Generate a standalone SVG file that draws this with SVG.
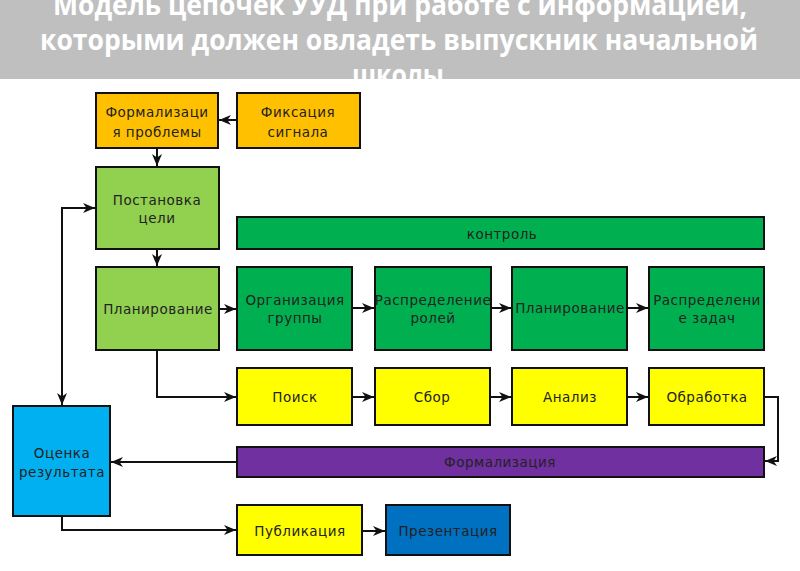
<svg xmlns="http://www.w3.org/2000/svg" width="800" height="571" viewBox="0 0 800 571">
<style>
.box{stroke:#111;stroke-width:2}
.t{font-family:"DejaVu Sans",Verdana,sans-serif;font-size:13.5px;fill:#222;text-anchor:middle;letter-spacing:0.5px}
.title{font-family:"Open Sans","DejaVu Sans",sans-serif;font-weight:bold;font-size:28px;fill:#ffffff;text-anchor:middle}
.c{fill:none;stroke:#111;stroke-width:2}
.orange{fill:#ffc000}.lgreen{fill:#92d050}.green{fill:#00b050}.yellow{fill:#ffff00}
.purple{fill:#7030a0}.lblue{fill:#00b0f0}.blue{fill:#0070c0}
</style>
<defs>
<marker id="ah" markerUnits="userSpaceOnUse" markerWidth="13" markerHeight="11" refX="12" refY="5.5" orient="auto-start-reverse" viewBox="0 0 13 11">
<path d="M0,0.5 L12,5.5 L0,10.5 L3.5,5.5 z" fill="#111"/>
</marker>
</defs>
<rect width="800" height="571" fill="#ffffff"/>
<g id="title">
<rect x="0" y="0" width="800" height="79" fill="#bfbfbf"/>
<text class="title" x="400" y="15" textLength="694" lengthAdjust="spacingAndGlyphs">Модель цепочек УУД при работе с информацией,</text>
<text class="title" x="399" y="50" textLength="718" lengthAdjust="spacingAndGlyphs">которыми должен овладеть выпускник начальной</text>
<text class="title" x="398" y="85" textLength="92" lengthAdjust="spacingAndGlyphs">школы</text>
</g>
<g id="connectors">
<path class="c" d="M237,120 L219,120" marker-end="url(#ah)"/>
<path class="c" d="M157,148 L157,166" marker-end="url(#ah)"/>
<path class="c" d="M157,249 L157,266" marker-end="url(#ah)"/>
<path class="c" d="M219,309 L236,309" marker-end="url(#ah)"/>
<path class="c" d="M352,308 L374,308" marker-end="url(#ah)"/>
<path class="c" d="M491,308 L511,308" marker-end="url(#ah)"/>
<path class="c" d="M627,308 L648,308" marker-end="url(#ah)"/>
<path class="c" d="M157,350 L157,397 L236,397" marker-end="url(#ah)"/>
<path class="c" d="M352,397 L374,397" marker-end="url(#ah)"/>
<path class="c" d="M490,397 L511,397" marker-end="url(#ah)"/>
<path class="c" d="M627,397 L648,397" marker-end="url(#ah)"/>
<path class="c" d="M764,397 L778,397 L778,461 L765,461" marker-end="url(#ah)"/>
<path class="c" d="M237,462 L111,462" marker-end="url(#ah)"/>
<path class="c" d="M62,516 L62,530 L236,530" marker-end="url(#ah)"/>
<path class="c" d="M362,531 L385,531" marker-end="url(#ah)"/>
<path class="c" d="M62,405 L62,208 L95,208" marker-start="url(#ah)" marker-end="url(#ah)"/>
</g>
<g id="n_formprob"><rect class="box orange" x="96" y="93" width="122" height="55"/><text class="t" x="157" y="117">Формализаци</text><text class="t" x="157" y="137">я проблемы</text></g>
<g id="n_fix"><rect class="box orange" x="237" y="93" width="123" height="55"/><text class="t" x="298" y="117">Фиксация</text><text class="t" x="298" y="137">сигнала</text></g>
<g id="n_goal"><rect class="box lgreen" x="96" y="167" width="123" height="82"/><text class="t" x="157" y="205">Постановка</text><text class="t" x="157" y="223">цели</text></g>
<g id="n_control"><rect class="box green" x="237" y="217" width="527" height="32"/><text class="t" x="502" y="239">контроль</text></g>
<g id="n_plan"><rect class="box lgreen" x="96" y="267" width="123" height="83"/><text class="t" x="158" y="314">Планирование</text></g>
<g id="n_org"><rect class="box green" x="237" y="267" width="115" height="83"/><text class="t" x="295" y="305">Организация</text><text class="t" x="295" y="323">группы</text></g>
<g id="n_roles"><rect class="box green" x="375" y="267" width="116" height="83"/><text class="t" x="433" y="305">Распределение</text><text class="t" x="433" y="323">ролей</text></g>
<g id="n_plan2"><rect class="box green" x="512" y="267" width="115" height="83"/><text class="t" x="570" y="313">Планирование</text></g>
<g id="n_tasks"><rect class="box green" x="649" y="267" width="115" height="83"/><text class="t" x="707" y="305">Распределени</text><text class="t" x="707" y="323">е задач</text></g>
<g id="n_search"><rect class="box yellow" x="237" y="368" width="115" height="57"/><text class="t" x="295" y="402">Поиск</text></g>
<g id="n_collect"><rect class="box yellow" x="375" y="368" width="115" height="57"/><text class="t" x="432" y="402">Сбор</text></g>
<g id="n_analysis"><rect class="box yellow" x="512" y="368" width="115" height="57"/><text class="t" x="570" y="402">Анализ</text></g>
<g id="n_process"><rect class="box yellow" x="649" y="368" width="115" height="57"/><text class="t" x="707" y="402">Обработка</text></g>
<g id="n_formal"><rect class="box purple" x="237" y="447" width="527" height="30"/><text class="t" x="500" y="467">Формализация</text></g>
<g id="n_eval"><rect class="box lblue" x="13" y="406" width="97" height="110"/><text class="t" x="62" y="458">Оценка</text><text class="t" x="62" y="477">результата</text></g>
<g id="n_pub"><rect class="box yellow" x="237" y="505" width="125" height="50"/><text class="t" x="300" y="536">Публикация</text></g>
<g id="n_pres"><rect class="box blue" x="386" y="505" width="124" height="50"/><text class="t" x="448" y="536">Презентация</text></g>
</svg>
